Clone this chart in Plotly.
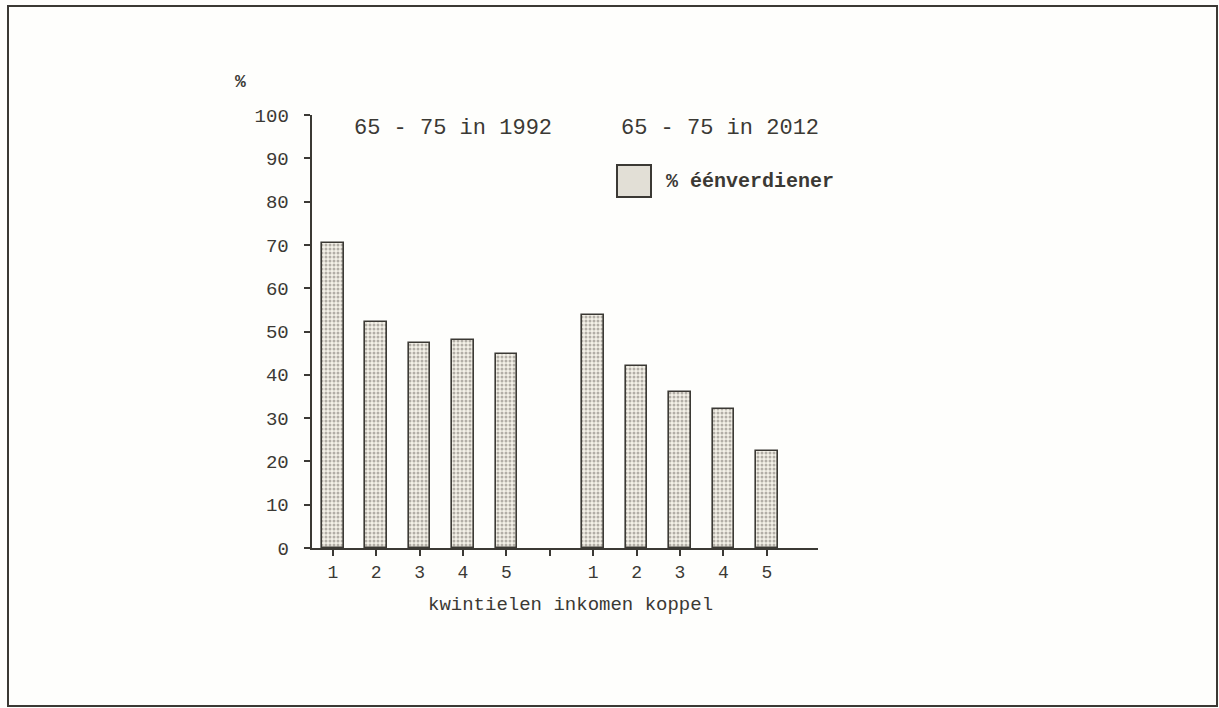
import plotly.graph_objects as go

# ---- data ----
quintiles = ["1", "2", "3", "4", "5"]
values_1992 = [70.5, 52.3, 47.4, 48.1, 44.9]
values_2012 = [53.9, 42.1, 36.1, 32.0, 22.3]
group_titles = ["65 - 75 in 1992", "65 - 75 in 2012"]
series_name = "% éénverdiener"
y_ticks = [0, 10, 20, 30, 40, 50, 60, 70, 80, 90, 100]

# positions: first group 0..4, gap at 5, second group 6..10
x1 = list(range(len(quintiles)))
x2 = [len(quintiles) + 1 + i for i in range(len(quintiles))]
xs = x1 + x2
ys = values_1992 + values_2012
tickvals = list(range(2 * len(quintiles) + 1))
ticktext = quintiles + [""] + quintiles

INK = "#3b3934"
FONT = "Liberation Mono"

fig = go.Figure()
fig.add_trace(go.Bar(
    x=xs, y=ys, width=0.5, name=series_name, showlegend=False,
    marker=dict(
        color="#f4f1e8",
        line=dict(color=INK, width=1.6),
        pattern=dict(shape=".", size=4, solidity=0.45, fgcolor="#6f6c64", bgcolor="#f4f1e8"),
    ),
))

W, H = 1219, 708
L, R, T, B = 312, 818, 115, 548
fig.update_layout(
    width=W, height=H,
    margin=dict(l=L, r=W - R, t=T, b=H - B, pad=0),
    paper_bgcolor="#fefefc", plot_bgcolor="#fefefc",
    font=dict(family=FONT, color=INK, size=18),
    bargap=0,
)
fig.update_xaxes(
    range=[-0.48, 11.18], tickvals=tickvals, ticktext=ticktext,
    showline=True, linecolor=INK, linewidth=2, showgrid=False, zeroline=False,
    ticks="outside", ticklen=6, tickwidth=1.5, tickcolor=INK,
    tickfont=dict(family=FONT, size=18, color=INK),
)
fig.update_yaxes(
    range=[0, 100], tickvals=y_ticks, ticktext=[str(v) + " " for v in y_ticks],
    showline=True, linecolor=INK, linewidth=2, showgrid=False, zeroline=False,
    ticks="outside", ticklen=6, tickwidth=1.5, tickcolor=INK,
    tickfont=dict(family=FONT, size=19, color=INK),
)

pw, ph = R - L, B - T
def px(xp):
    return (xp - L) / pw
def py(yp):
    return (B - yp) / ph

# frame around the whole picture
fig.add_shape(type="rect", xref="paper", yref="paper",
              x0=px(8), x1=px(1217), y0=py(706), y1=py(6),
              line=dict(color=INK, width=2), fillcolor="rgba(0,0,0,0)", layer="below")

# group titles
fig.add_annotation(text=group_titles[0], xref="paper", yref="paper",
                   x=px(453), y=py(128), showarrow=False,
                   font=dict(family=FONT, size=22, color=INK), xanchor="center", yanchor="middle")
fig.add_annotation(text=group_titles[1], xref="paper", yref="paper",
                   x=px(720), y=py(128), showarrow=False,
                   font=dict(family=FONT, size=22, color=INK), xanchor="center", yanchor="middle")

# legend box + label
fig.add_shape(type="rect", xref="paper", yref="paper",
              x0=px(617), x1=px(651), y0=py(197), y1=py(165),
              line=dict(color=INK, width=2), fillcolor="#e2dfd6")
fig.add_annotation(text="<b>" + series_name + "</b>", xref="paper", yref="paper",
                   x=px(664), y=py(181), showarrow=False,
                   font=dict(family=FONT, size=20, color=INK), xanchor="left", yanchor="middle")

# y-axis unit
fig.add_annotation(text="<b>%</b>", xref="paper", yref="paper",
                   x=px(240), y=py(82), showarrow=False,
                   font=dict(family=FONT, size=18, color=INK), xanchor="center", yanchor="middle")

# x-axis title
fig.add_annotation(text="kwintielen inkomen koppel", xref="paper", yref="paper",
                   x=px(570), y=py(605), showarrow=False,
                   font=dict(family=FONT, size=19, color=INK), xanchor="center", yanchor="middle")

fig.write_html("out.html", config={"displayModeBar": False},
               post_script="document.body.style.margin='0px';document.body.style.overflow='hidden';")
